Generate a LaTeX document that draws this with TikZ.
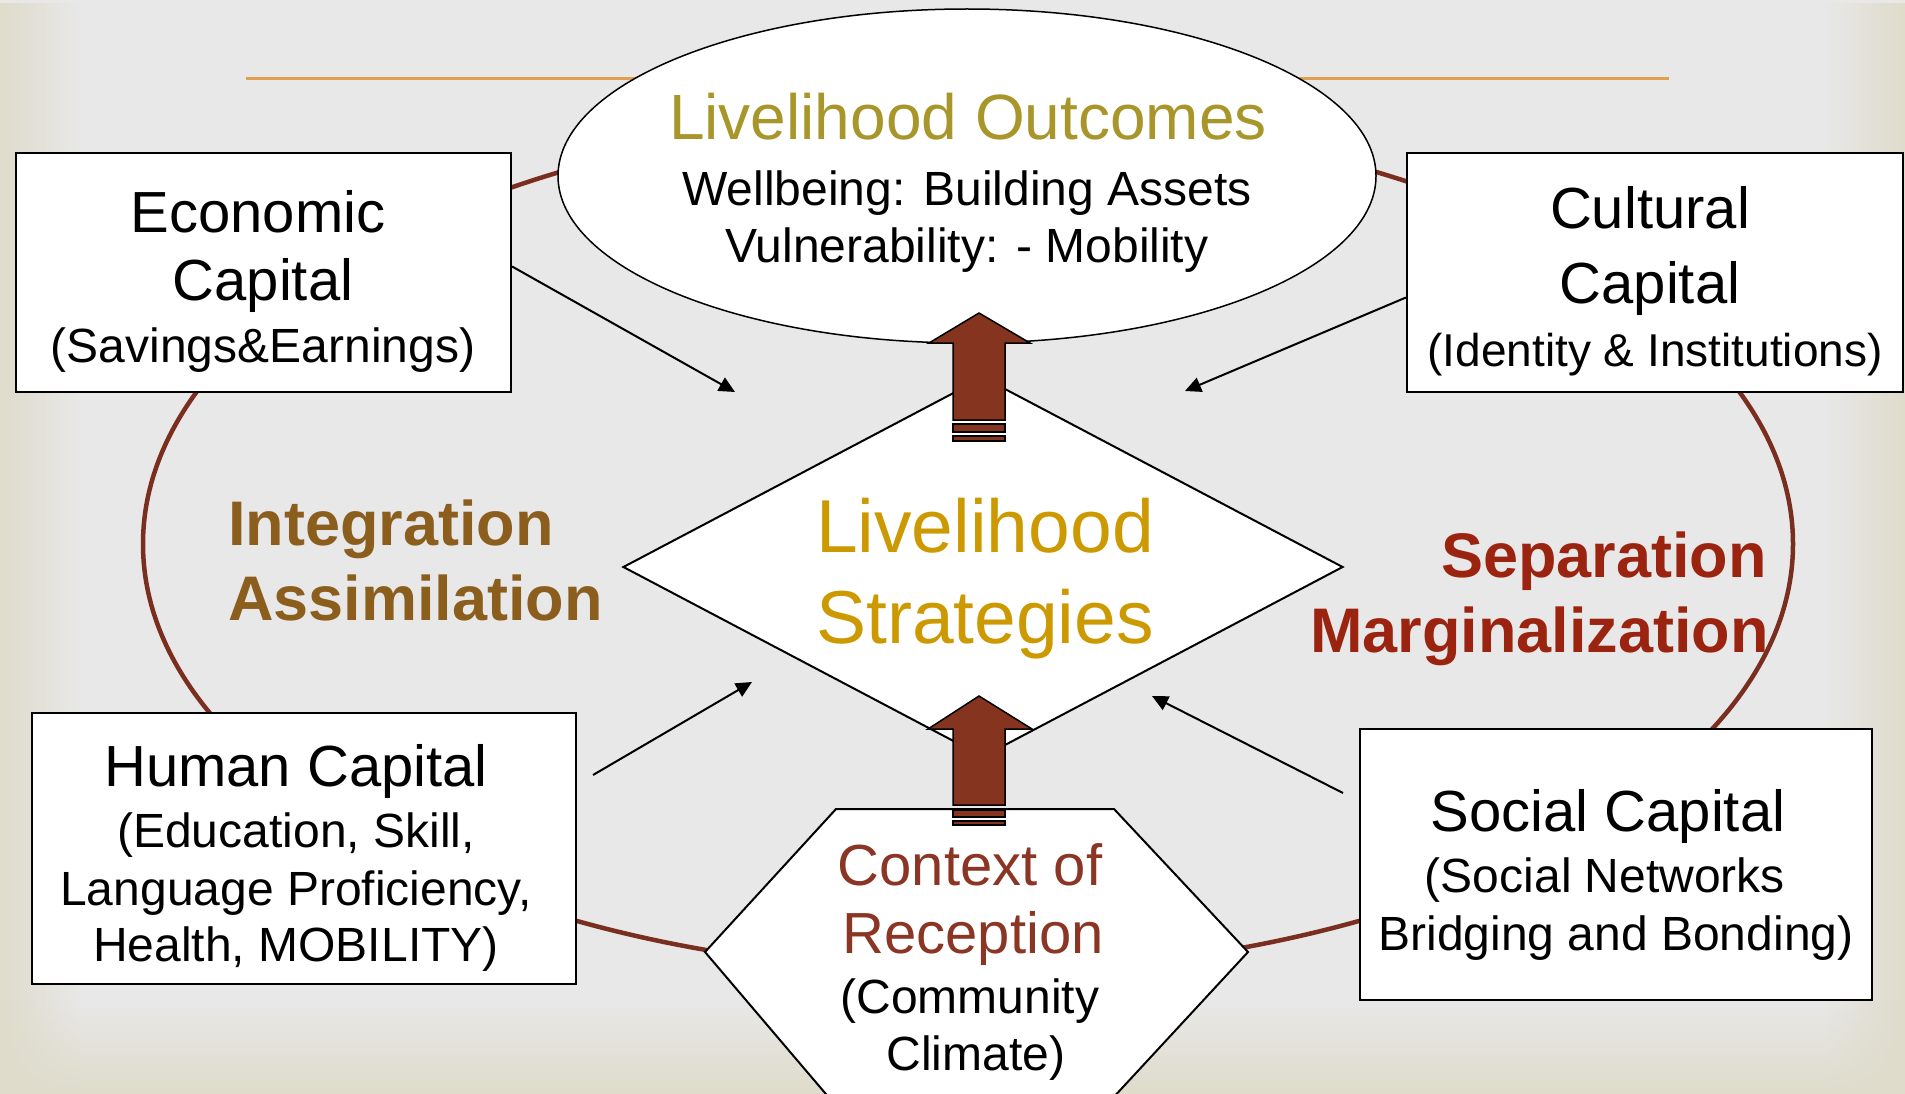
\documentclass[tikz,border=0pt]{standalone}
\usepackage{fontspec}
\setmainfont{Liberation Sans}
\usetikzlibrary{arrows.meta,shapes.geometric,fadings}
\definecolor{bggray}{HTML}{E8E8E8}
\definecolor{bgbeige}{HTML}{DFDCCB}
\definecolor{outcol}{HTML}{A8962A}
\definecolor{stratcol}{HTML}{CC9900}
\definecolor{integcol}{HTML}{8B5E1E}
\definecolor{sepcol}{HTML}{9B2410}
\definecolor{ctxcol}{HTML}{8B3525}
\definecolor{arrowbrown}{HTML}{85351F}
\definecolor{ringcol}{HTML}{7A2E1F}
\definecolor{orangeline}{HTML}{DFA04F}
\begin{document}
\begin{tikzpicture}[x=1pt,y=-1pt]
\tikzset{
 box/.style={draw=black, line width=2.2pt, fill=white, inner sep=0pt},
 tline/.style={anchor=base, inner sep=0pt, font=\fontsize{58}{58}\selectfont},
 sline/.style={anchor=base, inner sep=0pt, font=\fontsize{48}{48}\selectfont},
 conn/.style={line width=2pt, -{Triangle[length=16pt,width=15pt]}},
 blockarrow/.style={fill=arrowbrown, draw=black, line width=1.5pt, line join=miter},
 bigbold/.style={inner sep=0pt, font=\fontsize{63}{63}\selectfont\bfseries},
}
\useasboundingbox (0,0) rectangle (1905,1094);
% background
\fill[bggray] (0,0) rectangle (1905,1094);
\fill[bgbeige, path fading=east] (0,0) rectangle (80,1094);
\fill[bgbeige, path fading=west] (1825,0) rectangle (1905,1094);
\fill[bgbeige, path fading=north] (0,1000) rectangle (1905,1094);
% orange rule
\draw[orangeline, line width=3pt] (246,79) -- (1669,79);
% ring
\draw[ringcol, line width=4.5pt] (968,544) ellipse [x radius=825, y radius=428];
% top ellipse
\node[ellipse, draw=black, line width=1.5pt, fill=white, minimum width=818pt, minimum height=334pt, inner sep=0pt] (outc) at (967,176) {};
\node[anchor=base, inner sep=0pt, font=\fontsize{64}{64}\selectfont, text=outcol] (outT) at (968,140) {Livelihood Outcomes};
\node[sline] (outS1) at (967,205) {Wellbeing: Building Assets};
\node[sline] (outS2) at (967,262) {Vulnerability: - Mobility};
% boxes
\node[box, minimum width=495pt, minimum height=239pt] (econ) at (263.5,272.5) {};
\node[tline] (econT1) at (258,232) {Economic};
\node[tline] (econT2) at (263,300) {Capital};
\node[sline] (econS) at (263,362) {(Savings\&Earnings)};
\node[box, minimum width=496pt, minimum height=239pt] (cult) at (1655,272.5) {};
\node[tline] (cultT1) at (1650,228) {Cultural};
\node[tline] (cultT2) at (1650,303) {Capital};
\node[anchor=base, inner sep=0pt, font=\fontsize{46}{46}\selectfont] (cultS) at (1655,366) {(Identity \& Institutions)};
\node[box, minimum width=544pt, minimum height=271pt] (human) at (304,848.5) {};
\node[tline] (humT) at (296,786) {Human Capital};
\node[sline] (humS1) at (296,847) {(Education, Skill,};
\node[sline] (humS2) at (296,905) {Language Proficiency,};
\node[sline] (humS3) at (296,961) {Health, MOBILITY)};
\node[box, minimum width=512pt, minimum height=271pt] (social) at (1616,864.5) {};
\node[tline] (socT) at (1608,831) {Social Capital};
\node[sline] (socS1) at (1605,892) {(Social Networks};
\node[sline] (socS2) at (1616,950) {Bridging and Bonding)};
% middle labels
\node[bigbold, anchor=base west, text=integcol] (integ1) at (228,545) {Integration};
\node[bigbold, anchor=base west, text=integcol] (integ2) at (228,620) {Assimilation};
\node[bigbold, anchor=base east, text=sepcol] (sep1) at (1767,577) {Separation};
\node[bigbold, anchor=base east, text=sepcol] (sep2) at (1769,652) {Marginalization};
% diamond
\node[diamond, draw=black, line width=2pt, fill=white, minimum width=720pt, minimum height=380pt, aspect=1.9, inner sep=0pt] (strat) at (983,567) {};
\node[anchor=base, inner sep=0pt, font=\fontsize{75}{75}\selectfont, text=stratcol] (stratT1) at (985,552) {Livelihood};
\node[anchor=base, inner sep=0pt, font=\fontsize{75}{75}\selectfont, text=stratcol] (stratT2) at (985,643) {Strategies};
% thin arrows
\coordinate (econTip) at (735,392);
\coordinate (cultTip) at (1185,391);
\coordinate (humStart) at (593,775);
\coordinate (humTip) at (752,682);
\coordinate (socStart) at (1343,793);
\coordinate (socTip) at (1152,696);
\draw[conn] ([yshift=6pt]econ.east) -- (econTip);
\draw[conn] ([yshift=-25pt]cult.west) -- (cultTip);
\draw[conn] (humStart) -- (humTip);
\draw[conn] (socStart) -- (socTip);
% context hexagon
\coordinate (ctx) at (976,952);
\draw[black, line width=2pt, fill=white] (836,809) -- (1114,809) -- (1248,952) -- (1111,1100) -- (831,1100) -- (705,952) -- cycle;
\node[anchor=base, inner sep=0pt, font=\fontsize{58}{58}\selectfont, text=ctxcol] (ctxT1) at (970,885) {Context of};
\node[anchor=base, inner sep=0pt, font=\fontsize{58}{58}\selectfont, text=ctxcol] (ctxT2) at (973,953) {Reception};
\node[anchor=base, inner sep=0pt, font=\fontsize{48}{48}\selectfont] (ctxS1) at (970,1013) {(Community};
\node[anchor=base, inner sep=0pt, font=\fontsize{48}{48}\selectfont] (ctxS2) at (976,1070) {Climate)};
% block arrows
\filldraw[blockarrow] (953,420) -- (953,343) -- (929,343) -- (979,313) -- (1030,343) -- (1005,343) -- (1005,420) -- cycle;
\filldraw[blockarrow] (953,424) rectangle (1005,432);
\filldraw[blockarrow] (953,436) rectangle (1005,441);
\filldraw[blockarrow] (953,805) -- (953,729) -- (928,729) -- (979,696) -- (1032,729) -- (1005,729) -- (1005,805) -- cycle;
\filldraw[blockarrow] (953,810) rectangle (1005,817);
\filldraw[blockarrow] (953,821) rectangle (1005,825);
\end{tikzpicture}
\end{document}
